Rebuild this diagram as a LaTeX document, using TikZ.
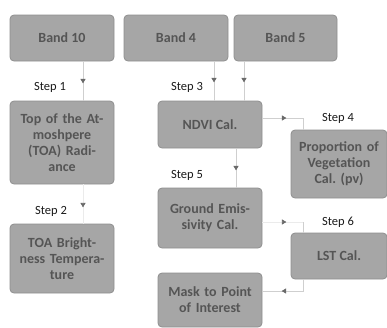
\documentclass[tikz,border=0pt]{standalone}
\usepackage{fontspec}
\setmainfont{Carlito}
\frenchspacing
\usetikzlibrary{arrows.meta,decorations.markings}
\definecolor{boxfill}{HTML}{A6A6A6}
\definecolor{boxedge}{HTML}{8F8F8F}
\definecolor{boxtext}{HTML}{555555}
\definecolor{wire}{HTML}{CFCFCF}
\definecolor{tipgray}{HTML}{6A6A6A}
\tikzset{
  procbox/.style={draw=boxedge, line width=0.8pt, fill=boxfill, rounded corners=4pt,
    inner sep=2pt, align=center, text=boxtext,
    font=\fontsize{14}{16}\selectfont\bfseries},
  steplabel/.style={font=\fontsize{12.5}{14}\selectfont, text=black!90, inner sep=0pt},
  conn/.style={draw=wire, line width=0.9pt},
  faint/.style={draw=black!8, line width=0.8pt},
  tipat/.style={postaction={decorate}, decoration={markings,
    mark=at position #1 with {\arrow[tipgray]{Triangle[width=5pt,length=4.5pt]}}}}
}
\begin{document}
\begin{tikzpicture}[x=1pt,y=-1pt]
\useasboundingbox (0,0) rectangle (387,327);

% input bands
\node[procbox, minimum width=104, minimum height=46] (b10) at (62,38) {Band 10};
\node[procbox, minimum width=104, minimum height=46] (b4) at (176,38) {Band 4};
\node[procbox, minimum width=103, minimum height=46] (b5) at (285.5,38) {Band 5};

% thermal branch
\node[procbox, text width=98, minimum width=104, minimum height=83] (toa) at (62,142.5)
  {Top of the At-\\moshpere\\(TOA) Radi-\\ance};
\node[procbox, text width=98, minimum width=104, minimum height=69] (tbt) at (62,258.5)
  {TOA Bright-\\ness Tempera-\\ture};

% vegetation branch
\node[procbox, minimum width=104, minimum height=47] (ndvi) at (210,124.5) {NDVI Cal.};
\node[procbox, text width=92, minimum width=96, minimum height=68] (pv) at (339,164)
  {Proportion of\\Vegetation\\Cal. (pv)};
\node[procbox, text width=98, minimum width=104, minimum height=60] (ground) at (210,218)
  {Ground Emis-\\sivity Cal.};
\node[procbox, minimum width=96, minimum height=46] (lst) at (339,256) {LST Cal.};
\node[procbox, text width=98, minimum width=104, minimum height=54] (mask) at (210,300)
  {Mask to Point\\of Interest};

% connectors
\coordinate (c4a) at (303,118);
\coordinate (c6a) at (303,222);
\coordinate (c7a) at (303,291);

\path[conn, tipat=22pt] ([xshift=21]b10.south) -- ([xshift=21]toa.north);
\path[faint, tipat=23pt] ([xshift=21]toa.south) -- ([xshift=21]tbt.north);
\path[conn, tipat=21pt] ([xshift=38]b4.south) -- ([xshift=4]ndvi.north);
\path[conn, tipat=21pt] ([xshift=-41.5]b5.south) -- ([xshift=34]ndvi.north);
\path[conn, tipat=24pt] (ndvi.east |- c4a) -- (c4a) -- (c4a |- pv.north);
\path[conn, tipat=22pt] ([xshift=26]ndvi.south) -- ([xshift=26]ground.north);
\path[faint, tipat=24pt] (ground.east |- c6a) -- (c6a);
\path[conn] (c6a) -- (c6a |- lst.north);
\path[conn, tipat=33pt] (c6a |- lst.south) -- (c7a) -- (mask.east |- c7a);

% step labels
\node[steplabel] (s1) at (50,87) {Step 1};
\node[steplabel] (s2) at (51,211) {Step 2};
\node[steplabel] (s3) at (187,87) {Step 3};
\node[steplabel] (s4) at (338,118) {Step 4};
\node[steplabel] (s5) at (187,175) {Step 5};
\node[steplabel] (s6) at (338,222) {Step 6};
\end{tikzpicture}
\end{document}
